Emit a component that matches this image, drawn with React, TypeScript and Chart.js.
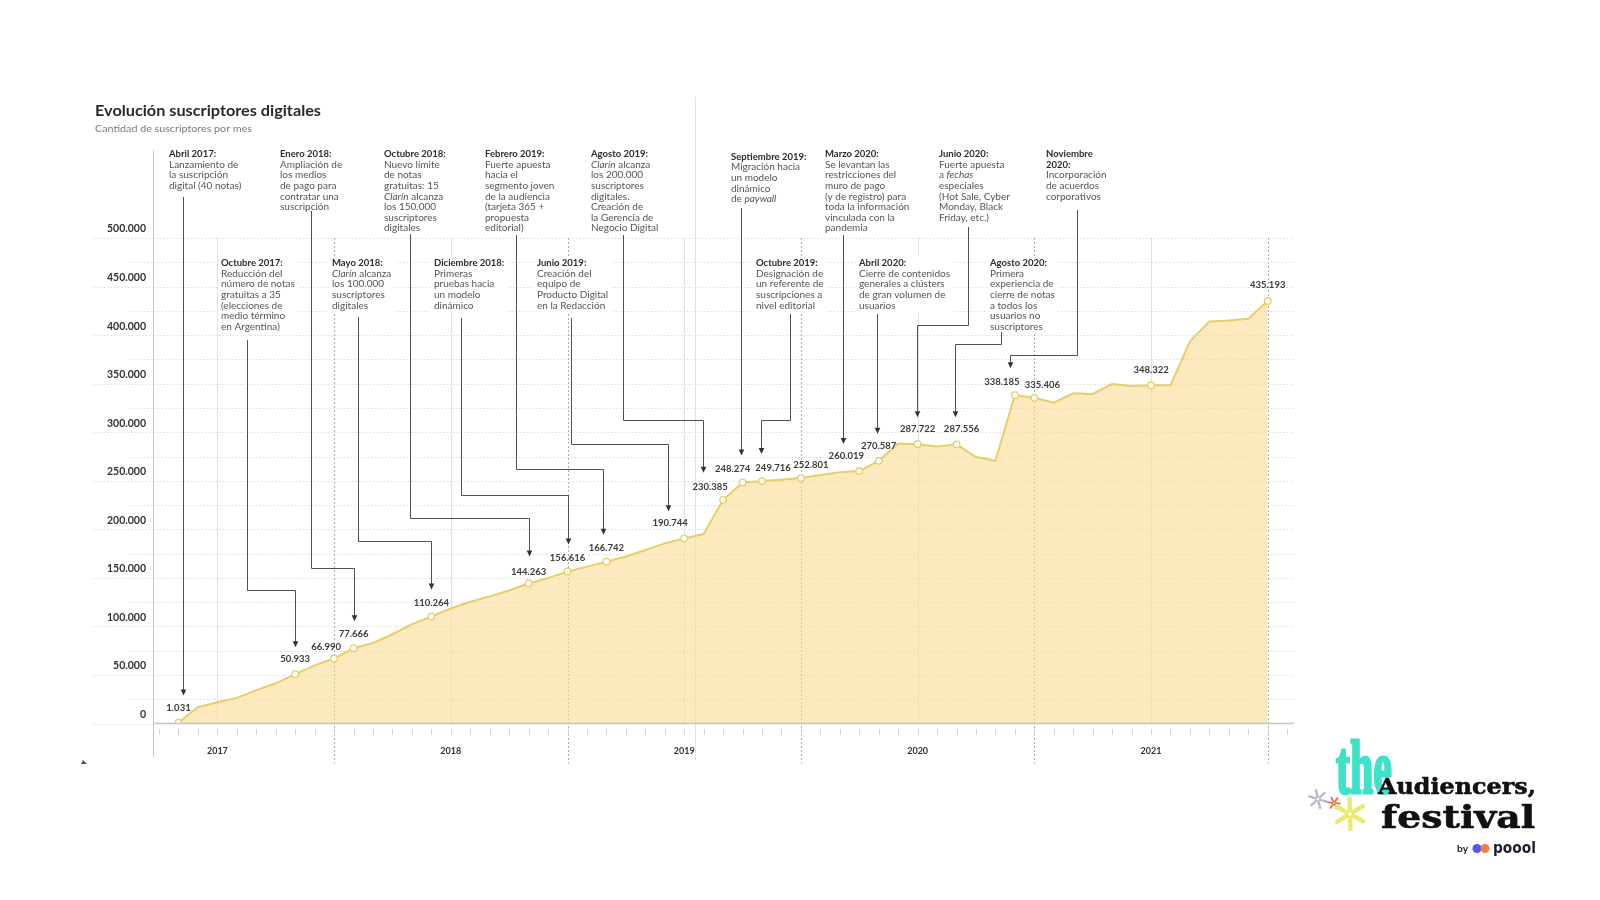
import { useEffect, useRef } from 'react';
import { Chart, registerables } from 'chart.js';

Chart.register(...registerables);

// ---------- DATA ----------
const MES = ['ene', 'feb', 'mar', 'abr', 'may', 'jun', 'jul', 'ago', 'sep', 'oct', 'nov', 'dic'];
const MONTHS: string[] = [];
for (let yr = 2017; yr <= 2021; yr++) {
  for (let m = 0; m < 12; m++) {
    if (yr === 2017 && m < 3) continue;
    MONTHS.push(`${MES[m]} ${yr}`);
  }
}

// Suscriptores digitales por mes (abr 2017 – dic 2021)
const SUBSCRIBERS = [
  1031, 17000, 22000, 26500, 34500, 41500, 50933, 60000, 66990,
  77666, 83000, 92000, 102500, 110264, 118500, 125500, 131000, 137000, 144263, 149800, 156616,
  161600, 166742, 172000, 178800, 185600, 190744, 195200, 230385, 248274, 249716, 251200, 252801,
  255900, 258700, 260019, 270587, 288300, 287722, 285200, 287556, 274500, 270700, 338185, 335406,
  330400, 340100, 339400, 349700, 347600, 348322, 348300, 393600, 414100, 415100, 416800, 435193,
];

// indices of the months that carry a value label and a marker
const LABELED = [0, 6, 8, 9, 13, 18, 20, 22, 26, 28, 29, 30, 32, 35, 36, 38, 40, 43, 44, 50, 56];

const YEAR_LABELS = ['2017', '2018', '2019', '2020', '2021'];
const YEAR_TICKS = [2, 14, 26, 38, 50]; // mid-year (junio)
const DEC_LINES = [8, 20, 32, 44, 56]; // diciembre
const Y_MAX = 500000;
const Y_STEP = 50000;

// layout offsets of the value labels (px)
const LABEL_DX: Record<number, number> = { 8: -8, 26: -14, 28: -13, 29: -10, 30: 11, 32: 10, 35: -13, 40: 5, 43: -13, 44: 8 };
const LABEL_DY: Record<number, number> = { 8: -12, 18: -12, 28: -13, 30: -13, 32: -13, 43: -13, 44: -13, 56: -16, 9: -14, 13: -14, 20: -14, 22: -14, 29: -14 };

type Ann = {
  x: number; y: number; title: string[]; body: string[];
  target: number; dx: number; startY: number; lineX?: number; elbowY?: number;
};

const ANNOTATIONS: Ann[] = [
  { x: 169, y: 154, title: ['Abril 2017:'], body: ['Lanzamiento de', 'la suscripción', 'digital (40 notas)'], target: 0, dx: 5, startY: 197 },
  { x: 221, y: 263, title: ['Octubre 2017:'], body: ['Reducción del', 'número de notas', 'gratuitas a 35', '(elecciones de', 'medio término', 'en Argentina)'], target: 6, dx: 0, startY: 340, lineX: 247, elbowY: 590 },
  { x: 280, y: 154, title: ['Enero 2018:'], body: ['Ampliación de', 'los medios', 'de pago para', 'contratar una', 'suscripción'], target: 9, dx: 0, startY: 211, lineX: 311, elbowY: 568 },
  { x: 332, y: 263, title: ['Mayo 2018:'], body: ['*Clarín* alcanza', 'los 100.000', 'suscriptores', 'digitales'], target: 13, dx: 0, startY: 317, lineX: 358, elbowY: 541 },
  { x: 384, y: 154, title: ['Octubre 2018:'], body: ['Nuevo límite', 'de notas', 'gratuitas: 15', '*Clarín* alcanza', 'los 150.000', 'suscriptores', 'digitales'], target: 18, dx: 0, startY: 234, lineX: 410, elbowY: 518 },
  { x: 434, y: 263, title: ['Diciembre 2018:'], body: ['Primeras', 'pruebas hacia', 'un modelo', 'dinámico'], target: 20, dx: 0, startY: 318, lineX: 461, elbowY: 495 },
  { x: 485, y: 154, title: ['Febrero 2019:'], body: ['Fuerte apuesta', 'hacia el', 'segmento joven', 'de la audiencia', '(tarjeta 365 +', 'propuesta', 'editorial)'], target: 22, dx: -3, startY: 235, lineX: 516, elbowY: 469 },
  { x: 537, y: 263, title: ['Junio 2019:'], body: ['Creación del', 'equipo de', 'Producto Digital', 'en la Redacción'], target: 26, dx: -16, startY: 318, lineX: 571, elbowY: 444 },
  { x: 591, y: 154, title: ['Agosto 2019:'], body: ['*Clarín* alcanza', 'los 200.000', 'suscriptores', 'digitales.', 'Creación de', 'la Gerencia de', 'Negocio Digital'], target: 28, dx: -20, startY: 235, lineX: 623, elbowY: 420 },
  { x: 731, y: 156.5, title: ['Septiembre 2019:'], body: ['Migración hacia', 'un modelo', 'dinámico', 'de *paywall*'], target: 29, dx: -2, startY: 208 },
  { x: 756, y: 263, title: ['Octubre 2019:'], body: ['Designación de', 'un referente de', 'suscripciones a', 'nivel editorial'], target: 30, dx: -1, startY: 314, lineX: 790, elbowY: 420 },
  { x: 825, y: 154, title: ['Marzo 2020:'], body: ['Se levantan las', 'restricciones del', 'muro de pago', '(y de registro) para', 'toda la información', 'vinculada con la', 'pandemia'], target: 35, dx: -16, startY: 235 },
  { x: 859, y: 263, title: ['Abril 2020:'], body: ['Cierre de contenidos', 'generales a clústers', 'de gran volumen de', 'usuarios'], target: 36, dx: -2, startY: 314 },
  { x: 939, y: 154, title: ['Junio 2020:'], body: ['Fuerte apuesta', 'a *fechas*', 'especiales', '(Hot Sale, Cyber', 'Monday, Black', 'Friday, etc.)'], target: 38, dx: -1, startY: 227, lineX: 968, elbowY: 325 },
  { x: 990, y: 263, title: ['Agosto 2020:'], body: ['Primera', 'experiencia de', 'cierre de notas', 'a todos los', 'usuarios no', 'suscriptores'], target: 40, dx: -2, startY: 332, lineX: 1001, elbowY: 344 },
  { x: 1046, y: 154, title: ['Noviembre', '2020:'], body: ['Incorporación', 'de acuerdos', 'corporativos'], target: 43, dx: -5, startY: 210, lineX: 1077, elbowY: 355 },
];

// ---------- STYLE ----------
const FONT = 'Lato, "Open Sans", sans-serif';
const LINE_COLOR = '#E6CF68';
const FILL_COLOR = 'rgba(250, 218, 147, 0.6)';
const LH = 10.6;
const TITLE_SIZE = 9.5;
const BODY_SIZE = 10;
const ARROW_GAP = 27;

const fmt = (v: number) => String(Math.round(v)).replace(/\B(?=(\d{3})+(?!\d))/g, '.');

function richWidth(ctx: CanvasRenderingContext2D, line: string, size: number, bold: boolean) {
  let w = 0;
  line.split('*').forEach((p, i) => {
    ctx.font = `${i % 2 ? 'italic ' : ''}${bold ? 700 : 400} ${size}px ${FONT}`;
    w += ctx.measureText(p).width;
  });
  return w;
}

function drawRich(ctx: CanvasRenderingContext2D, line: string, x: number, y: number, size: number, bold: boolean, color: string) {
  let cx = x;
  line.split('*').forEach((p, i) => {
    ctx.font = `${i % 2 ? 'italic ' : ''}${bold ? 700 : 400} ${size}px ${FONT}`;
    ctx.fillStyle = color;
    ctx.fillText(p, cx, y);
    cx += ctx.measureText(p).width;
  });
}

function fitText(ctx: CanvasRenderingContext2D, text: string, x: number, baseline: number, font: string, width: number, color: string, thicken = 0) {
  ctx.font = font;
  const w = ctx.measureText(text).width;
  ctx.save();
  ctx.translate(x, baseline);
  ctx.scale(width / w, 1);
  ctx.fillStyle = color;
  ctx.textAlign = 'left';
  ctx.textBaseline = 'alphabetic';
  ctx.fillText(text, 0, 0);
  if (thicken > 0) {
    ctx.strokeStyle = color;
    ctx.lineWidth = thicken;
    ctx.lineJoin = 'round';
    ctx.strokeText(text, 0, 0);
  }
  ctx.restore();
}

function asterisk(ctx: CanvasRenderingContext2D, cx: number, cy: number, r: number, arms: number, rot: number, color: string, lw: number) {
  ctx.save();
  ctx.strokeStyle = color;
  ctx.lineWidth = lw;
  ctx.lineCap = 'round';
  for (let i = 0; i < arms; i++) {
    const a = rot + (i * Math.PI * 2) / arms;
    ctx.beginPath();
    ctx.moveTo(cx + Math.cos(a) * r * 0.25, cy + Math.sin(a) * r * 0.25);
    ctx.lineTo(cx + Math.cos(a) * r, cy + Math.sin(a) * r);
    ctx.stroke();
  }
  ctx.restore();
}

const decorPlugin = {
  id: 'decor',
  beforeDatasetsDraw(chart: any) {
    const { ctx, chartArea: a } = chart;
    const xs = chart.scales.x;
    const ys = chart.scales.y;
    ctx.save();
    ctx.lineWidth = 1;
    // horizontal dotted grid every 25.000
    ctx.strokeStyle = '#dcdcdc';
    ctx.setLineDash([1.5, 2]);
    for (let v = 0; v <= Y_MAX; v += Y_STEP / 2) {
      const py = Math.round(ys.getPixelForValue(v)) + 0.5;
      const major = v % Y_STEP === 0;
      ctx.beginPath();
      ctx.moveTo(major ? 93 : 130, py);
      ctx.lineTo(v === 0 ? a.left : a.right, py);
      ctx.stroke();
    }
    // June lines (light)
    ctx.strokeStyle = '#e2e2e2';
    ctx.setLineDash([]);
    YEAR_TICKS.forEach((m) => {
      const px = Math.round(xs.getPixelForValue(m)) + 0.5;
      ctx.beginPath();
      ctx.moveTo(px, a.top);
      ctx.lineTo(px, a.bottom);
      ctx.stroke();
    });
    // December lines (dotted, darker, crossing the axis)
    ctx.strokeStyle = '#b0b0b0';
    ctx.setLineDash([2, 2]);
    DEC_LINES.forEach((m) => {
      const px = Math.round(xs.getPixelForValue(m)) + 0.5;
      ctx.beginPath();
      ctx.moveTo(px, a.top);
      ctx.lineTo(px, a.bottom + 40);
      ctx.stroke();
    });
    ctx.setLineDash([]);
    // monthly tick marks
    ctx.strokeStyle = '#d3d3d3';
    for (let m = -1; m <= MONTHS.length; m++) {
      const px = Math.round(xs.getPixelForValue(m)) + 0.5;
      ctx.beginPath();
      ctx.moveTo(px, a.bottom + 5);
      ctx.lineTo(px, a.bottom + 11);
      ctx.stroke();
    }
    // seam line and y axis line
    ctx.strokeStyle = '#e2e2e2';
    ctx.beginPath();
    ctx.moveTo(695.5, 97);
    ctx.lineTo(695.5, 760);
    ctx.stroke();
    ctx.strokeStyle = '#c6c6c6';
    ctx.beginPath();
    ctx.moveTo(Math.round(a.left) + 0.5, 150);
    ctx.lineTo(Math.round(a.left) + 0.5, 757);
    ctx.stroke();
    ctx.restore();
  },
  afterDatasetsDraw(chart: any) {
    const { ctx, chartArea: a } = chart;
    const xs = chart.scales.x;
    const ys = chart.scales.y;
    ctx.save();
    // baseline
    ctx.strokeStyle = '#c4c4c4';
    ctx.lineWidth = 1.5;
    ctx.beginPath();
    ctx.moveTo(a.left, a.bottom);
    ctx.lineTo(a.right, a.bottom);
    ctx.stroke();

    // value labels
    ctx.textAlign = 'center';
    ctx.textBaseline = 'middle';
    ctx.font = `700 9.5px ${FONT}`;
    ctx.fillStyle = '#3a3a3a';
    LABELED.forEach((i) => {
      const px = xs.getPixelForValue(i) + (LABEL_DX[i] ?? 0);
      const py = ys.getPixelForValue(SUBSCRIBERS[i]) + (LABEL_DY[i] ?? -15);
      ctx.fillText(fmt(SUBSCRIBERS[i]), px, py);
    });

    // annotation boxes
    ctx.textAlign = 'left';
    ctx.textBaseline = 'middle';
    ANNOTATIONS.forEach((an) => {
      const lines = [...an.title.map((t) => ({ t, b: true })), ...an.body.map((t) => ({ t, b: false }))];
      let w = 0;
      lines.forEach((l) => { w = Math.max(w, richWidth(ctx, l.t, l.b ? TITLE_SIZE : BODY_SIZE, l.b)); });
      ctx.fillStyle = '#ffffff';
      ctx.fillRect(an.x - 3, an.y - 7, w + 6, lines.length * LH + 4);
      lines.forEach((l, k) => {
        drawRich(ctx, l.t, an.x, an.y + k * LH, l.b ? TITLE_SIZE : BODY_SIZE, l.b, l.b ? '#2c2c2c' : '#555555');
      });
    });

    // connectors + arrows
    ctx.strokeStyle = '#505050';
    ctx.lineWidth = 1;
    ctx.fillStyle = '#333333';
    ANNOTATIONS.forEach((an) => {
      const ax = Math.round(xs.getPixelForValue(an.target) + an.dx) + 0.5;
      const ay = ys.getPixelForValue(SUBSCRIBERS[an.target]) - ARROW_GAP;
      ctx.beginPath();
      if (an.lineX !== undefined && an.elbowY !== undefined) {
        const lx = Math.round(an.lineX) + 0.5;
        const ey = Math.round(an.elbowY) + 0.5;
        ctx.moveTo(lx, an.startY);
        ctx.lineTo(lx, ey);
        ctx.lineTo(ax, ey);
        ctx.lineTo(ax, ay - 5);
      } else {
        ctx.moveTo(ax, an.startY);
        ctx.lineTo(ax, ay - 5);
      }
      ctx.stroke();
      ctx.beginPath();
      ctx.moveTo(ax, ay);
      ctx.lineTo(ax - 2.8, ay - 6);
      ctx.lineTo(ax + 2.8, ay - 6);
      ctx.closePath();
      ctx.fill();
    });
    ctx.restore();
  },
  afterDraw(chart: any) {
    const { ctx } = chart;
    ctx.save();
    // title & subtitle
    fitText(ctx, 'Evolución suscriptores digitales', 95, 116, `700 16px ${FONT}`, 226, '#2a2a2a');
    fitText(ctx, 'Cantidad de suscriptores por mes', 95, 132, `400 10px ${FONT}`, 157, '#7a7a7a');

    // small speck bottom-left
    ctx.fillStyle = '#555';
    ctx.beginPath();
    ctx.moveTo(81, 764);
    ctx.lineTo(83, 760);
    ctx.lineTo(87, 764);
    ctx.closePath();
    ctx.fill();

    // logo
    fitText(ctx, 'the', 1336, 793, 'bold 76px "Liberation Serif", serif', 56, '#3FE2C8', 3);
    fitText(ctx, 'Audiencers,', 1378, 794, 'bold 23px "DejaVu Serif", serif', 158, '#111111', 0.6);
    fitText(ctx, 'festival', 1381, 828, 'bold 32px "DejaVu Serif", serif', 154, '#111111', 0.6);
    asterisk(ctx, 1318, 799, 9, 6, 0.3, '#b9b9c9', 2.4);
    asterisk(ctx, 1334, 803, 6, 6, 0.1, '#e0704e', 1.8);
    asterisk(ctx, 1350, 814, 15, 6, 0.5, '#E9EA70', 4.5);
    fitText(ctx, 'by', 1457, 852, `700 10px ${FONT}`, 11, '#222222');
    ctx.globalAlpha = 0.95;
    ctx.fillStyle = '#4B4DEB';
    ctx.beginPath(); ctx.arc(1477, 848.5, 4.5, 0, Math.PI * 2); ctx.fill();
    ctx.fillStyle = '#F2743A';
    ctx.beginPath(); ctx.arc(1485, 848.5, 4.5, 0, Math.PI * 2); ctx.fill();
    ctx.globalAlpha = 1;
    fitText(ctx, 'poool', 1493, 853, '700 16px "DejaVu Sans", sans-serif', 43, '#1d1d2b');
    ctx.restore();
  },
};

export default function App() {
  const ref = useRef<HTMLCanvasElement>(null);
  useEffect(() => {
    if (!ref.current) return;
    const chart = new Chart(ref.current, {
      type: 'line',
      data: {
        labels: MONTHS,
        datasets: [
          {
            label: 'Suscriptores digitales',
            data: SUBSCRIBERS.map((v, i) => ({ x: i, y: v })),
            borderColor: LINE_COLOR,
            backgroundColor: FILL_COLOR,
            borderWidth: 2,
            fill: 'origin',
            tension: 0,
            pointRadius: (c: any) => (LABELED.includes(c.dataIndex) ? 3.3 : 0),
            pointBackgroundColor: '#ffffff',
            pointBorderColor: LINE_COLOR,
            pointBorderWidth: 1.3,
          },
        ],
      },
      options: {
        responsive: false,
        animation: false,
        devicePixelRatio: 1,
        layout: { padding: { left: 93, right: 306, top: 238, bottom: 136.4 } },
        plugins: { legend: { display: false }, tooltip: { enabled: false }, title: { display: false } },
        scales: {
          x: {
            type: 'linear',
            min: -1.311,
            max: 57.35,
            afterBuildTicks: (s: any) => { s.ticks = YEAR_TICKS.map((v) => ({ value: v })); },
            afterFit: (s: any) => { s.height = 40; },
            ticks: {
              autoSkip: false,
              maxRotation: 0,
              padding: 22,
              color: '#333333',
              font: { family: FONT, weight: 'bold', size: 9 },
              callback: (v: any) => YEAR_LABELS[YEAR_TICKS.indexOf(Number(v))] ?? '',
            },
            grid: { display: false, drawTicks: false },
            border: { display: false },
          },
          y: {
            min: 0,
            max: Y_MAX,
            afterFit: (s: any) => { s.width = 60; },
            ticks: {
              stepSize: Y_STEP,
              labelOffset: -9,
              padding: 7,
              color: '#333333',
              font: { family: FONT, weight: 'bold', size: 10.5 },
              callback: (v: any) => fmt(Number(v)),
            },
            grid: { display: false, drawTicks: false },
            border: { display: false },
          },
        },
      } as any,
      plugins: [decorPlugin],
    });
    return () => chart.destroy();
  }, []);
  return (
    <div style={{ position: 'fixed', left: 0, top: 0, width: 1600, height: 900, background: '#ffffff' }}>
      <canvas ref={ref} width={1600} height={900} style={{ width: 1600, height: 900, display: 'block' }} />
    </div>
  );
}
